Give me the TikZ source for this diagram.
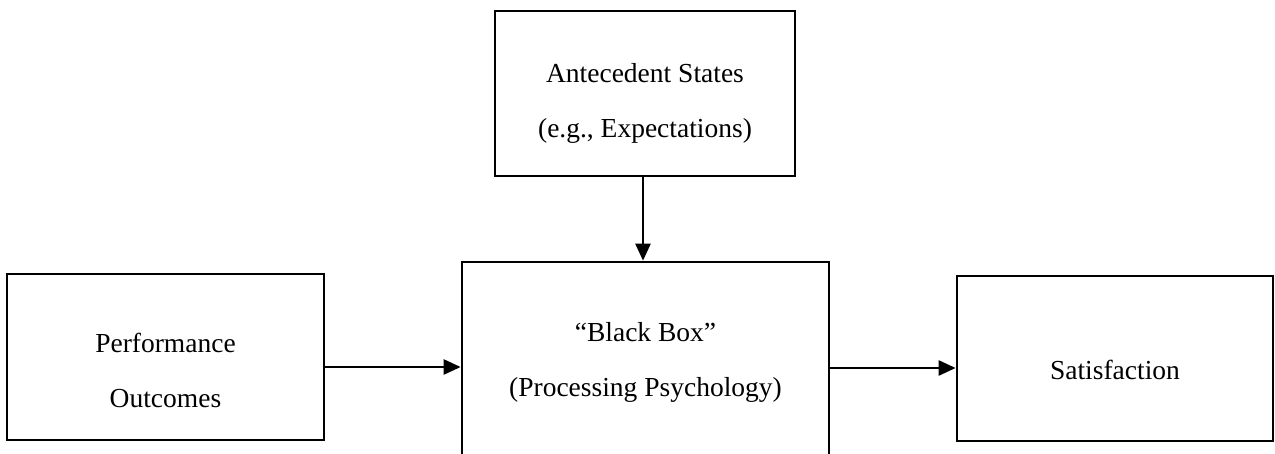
\documentclass[tikz,border=0pt]{standalone}
\usepackage{fontspec}
\setmainfont{Liberation Serif}
\usetikzlibrary{arrows.meta}
\begin{document}
\begin{tikzpicture}[x=1pt,y=-1pt,
  box/.style={draw=black,line width=2.7pt,inner sep=0pt},
  lbl/.style={align=center,inner sep=0pt,font=\fontsize{27.5}{55}\selectfont},
  arr/.style={line width=2.5pt,-{Triangle[length=17pt,width=15pt]}}]
  \useasboundingbox (0,0) rectangle (1275,453);
  \clip (0,0) rectangle (1275,453);
  % boxes
  \node[box,minimum width=300pt,minimum height=165pt] (ante) at (645,93.5) {};
  \node[box,minimum width=317pt,minimum height=166pt] (perf) at (165.5,357) {};
  \node[box,minimum width=367pt,minimum height=230pt] (bb) at (645.5,377) {};
  \node[box,minimum width=316pt,minimum height=165pt] (sat) at (1115,358.5) {};
  % labels
  \node[lbl] (antet) at (645,103) {Antecedent States\\(e.g., Expectations)};
  \node[lbl] (perft) at (165.5,370) {Performance\\Outcomes};
  \node[lbl] (bbt) at (645.5,362) {“Black Box”\\(Processing Psychology)};
  \node[lbl] (satt) at (1115,370) {Satisfaction};
  % connectors
  \draw[arr] (ante.south -| 643,0) -- (bb.north -| 643,0);
  \draw[arr] (perf.east |- 0,367) -- (bb.west |- 0,367);
  \draw[arr] (bb.east |- 0,368) -- (sat.west |- 0,368);
\end{tikzpicture}
\end{document}
